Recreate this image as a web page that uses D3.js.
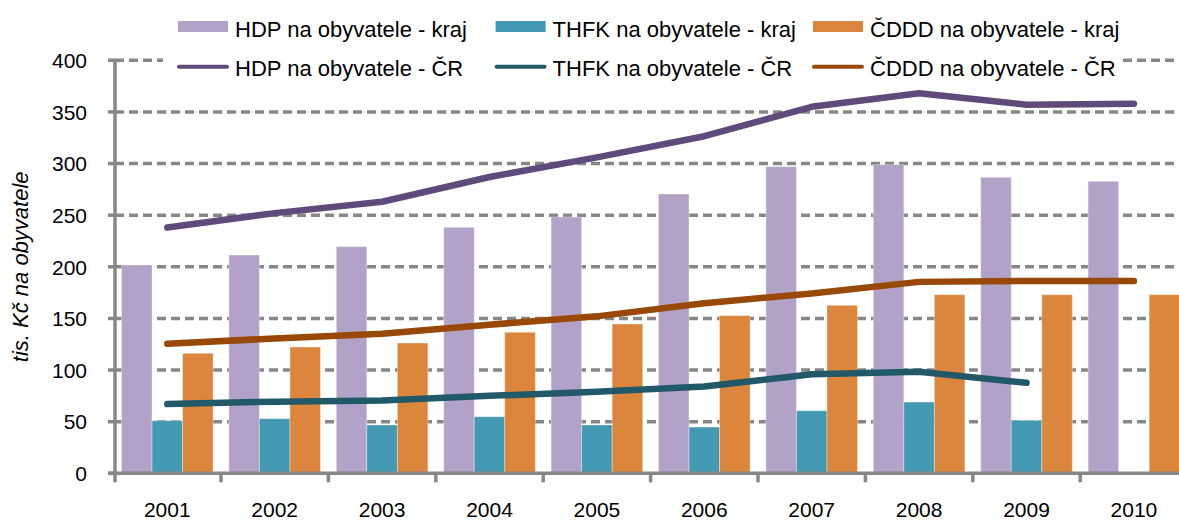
<!DOCTYPE html>
<html>
<head>
<meta charset="utf-8">
<script src="https://cdn.jsdelivr.net/npm/d3@7"></script>
<style>
  html, body { margin: 0; padding: 0; background: #fff; }
  svg { display: block; font-family: "Liberation Sans", Arial, sans-serif; }
</style>
</head>
<body>
<svg id="chart" width="1179" height="522"></svg>
<script>
// ---- data ----
const years = ['2001','2002','2003','2004','2005','2006','2007','2008','2009','2010'];
const hdpKraj  = [201.7, 211.4, 219.5, 238.3, 248.2, 270.5, 297.0, 298.9, 286.7, 282.8];
const thfkKraj = [50.9, 52.9, 46.8, 54.8, 46.8, 44.8, 60.6, 69.0, 51.3, null];
const cdddKraj = [116.2, 122.3, 126.2, 136.6, 144.6, 152.7, 162.7, 173.0, 173.0, 173.0];
const hdpCR    = [238, 252, 263, 287, 306, 326.5, 355, 368, 357, 358];
const thfkCR   = [67, 69.4, 70.6, 75, 79, 84, 96, 98.4, 87.6, null];
const cdddCR   = [125.5, 130.6, 135.2, 143.9, 152, 164.6, 174.2, 185.4, 186.3, 186.3];
const yTicks   = [0, 50, 100, 150, 200, 250, 300, 350, 400];
const barNames  = ['HDP na obyvatele - kraj', 'THFK na obyvatele - kraj', 'ČDDD na obyvatele - kraj'];
const lineNames = ['HDP na obyvatele - ČR', 'THFK na obyvatele - ČR', 'ČDDD na obyvatele - ČR'];
const yTitle = 'tis. Kč na obyvatele';

const barColors  = ['#B3A2C7', '#4399B1', '#DC853D'];
const lineColors = ['#604A7B', '#215968', '#984807'];
const gridColor = '#878787';

const svg = d3.select('#chart');

// ---- scales ----
const x = d3.scaleBand().domain(years).range([113.6, 1187.6]);
const xs = d3.scaleBand().domain([0, 1, 2]).range([7.9, 99.5]);
const y = d3.scaleLinear().domain([0, 400]).range([473.3, 60.3]);
const axisX = 115;

// ---- gridlines ----
svg.append('g').selectAll('line').data(yTicks.filter(d => d > 0)).join('line')
  .attr('x1', axisX).attr('x2', 1179)
  .attr('y1', d => y(d)).attr('y2', d => y(d))
  .attr('stroke', gridColor).attr('stroke-width', 3.5)
  .attr('stroke-dasharray', '9,5');

// ---- bars ----
const barSeries = [hdpKraj, thfkKraj, cdddKraj];
barSeries.forEach((vals, si) => {
  svg.append('g').selectAll('rect')
    .data(years.map((yr, i) => ({ yr, v: vals[i] })).filter(d => d.v != null))
    .join('rect')
    .attr('x', d => x(d.yr) + xs(si))
    .attr('width', xs.bandwidth())
    .attr('y', d => y(d.v))
    .attr('height', d => y(0) - y(d.v))
    .attr('fill', barColors[si])
    .attr('stroke', 'rgba(255,255,255,0.35)')
    .attr('stroke-width', 1);
});

// ---- lines ----
const lineSeries = [hdpCR, thfkCR, cdddCR];
const lineGen = d3.line()
  .defined(d => d.v != null)
  .x(d => x(d.yr) + x.bandwidth() / 2)
  .y(d => y(d.v));
lineSeries.forEach((vals, si) => {
  svg.append('path')
    .datum(years.map((yr, i) => ({ yr, v: vals[i] })))
    .attr('d', lineGen)
    .attr('fill', 'none')
    .attr('stroke', lineColors[si])
    .attr('stroke-width', 6.5)
    .attr('stroke-linecap', 'round')
    .attr('stroke-linejoin', 'round');
});

// ---- axes ----
const axG = svg.append('g');
axG.append('line').attr('x1', axisX).attr('x2', axisX)
  .attr('y1', y(400) - 1.5).attr('y2', y(0) + 9)
  .attr('stroke', gridColor).attr('stroke-width', 3.5);
axG.selectAll('line.yt').data(yTicks).join('line').attr('class', 'yt')
  .attr('x1', 108).attr('x2', axisX)
  .attr('y1', d => y(d)).attr('y2', d => y(d))
  .attr('stroke', gridColor).attr('stroke-width', 3.5);
axG.append('line').attr('x1', 108).attr('x2', 1179)
  .attr('y1', y(0)).attr('y2', y(0))
  .attr('stroke', gridColor).attr('stroke-width', 3.5);
axG.selectAll('line.xt').data(years.slice(1)).join('line').attr('class', 'xt')
  .attr('x1', d => x(d)).attr('x2', d => x(d))
  .attr('y1', y(0)).attr('y2', y(0) + 9)
  .attr('stroke', gridColor).attr('stroke-width', 3.5);

axG.selectAll('text.yl').data(yTicks).join('text').attr('class', 'yl')
  .attr('x', 87).attr('y', d => y(d))
  .attr('dy', '0.37em')
  .attr('text-anchor', 'end')
  .attr('font-size', 21)
  .attr('fill', '#000')
  .text(d => d);

axG.selectAll('text.xl').data(years).join('text').attr('class', 'xl')
  .attr('x', d => x(d) + x.bandwidth() / 2).attr('y', 517)
  .attr('text-anchor', 'middle')
  .attr('font-size', 21)
  .attr('fill', '#000')
  .text(d => d);

svg.append('text')
  .attr('transform', 'translate(28,' + ((y(0) + y(400)) / 2) + ') rotate(-90)')
  .attr('text-anchor', 'middle')
  .attr('font-size', 22)
  .attr('font-style', 'italic')
  .attr('fill', '#000')
  .text(yTitle);

// ---- legend ----
const lg = svg.append('g');
lg.append('rect').attr('x', 163).attr('y', 8).attr('width', 957).attr('height', 72).attr('fill', '#fff');
const colX = [178, 495.6, 813];
const swW = 50;
barNames.forEach((name, i) => {
  lg.append('rect').attr('x', colX[i]).attr('y', 21).attr('width', swW).attr('height', 11)
    .attr('fill', barColors[i]);
  lg.append('text').attr('x', colX[i] + swW + 7).attr('y', 37.3)
    .attr('font-size', 22).attr('fill', '#000').text(name);
});
lineNames.forEach((name, i) => {
  lg.append('line').attr('x1', colX[i] + 1).attr('x2', colX[i] + swW - 1)
    .attr('y1', 66.7).attr('y2', 66.7)
    .attr('stroke', lineColors[i]).attr('stroke-width', 4).attr('stroke-linecap', 'round');
  lg.append('text').attr('x', colX[i] + swW + 7).attr('y', 76)
    .attr('font-size', 22).attr('fill', '#000').text(name);
});
</script>
</body>
</html>
